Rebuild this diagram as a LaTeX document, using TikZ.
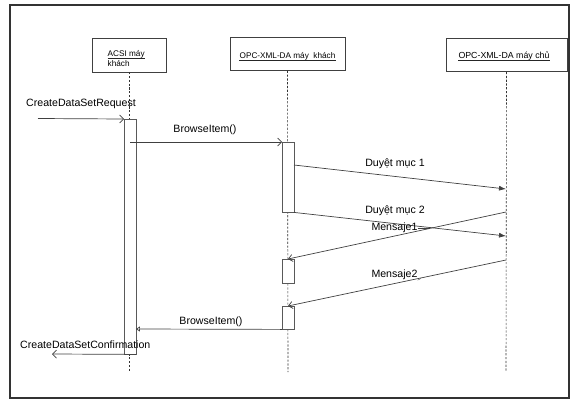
\documentclass[tikz,border=0pt]{standalone}
\usepackage{fontspec}
\setmainfont{Liberation Sans}
\usetikzlibrary{arrows.meta}
\begin{document}
\begin{tikzpicture}[x=1pt,y=-1pt,
    obj/.style={draw=black!75, thin, fill=white, inner sep=0pt},
    objtxt/.style={inner sep=0pt, font=\fontsize{8.2}{9}\selectfont},
    uline/.style={black!85, line width=0.55pt},
    act/.style={draw=black!65, thin, fill=white, minimum width=11.5pt, inner sep=0pt, anchor=north},
    life/.style={black!80, dash pattern=on 2.2pt off 1.6pt, line width=0.6pt},
    msg/.style={black!75, line width=0.7pt},
    lbl/.style={inner sep=0pt, font=\fontsize{10.6}{12}\selectfont}]

    \useasboundingbox (0,0) rectangle (576,402);

    % 外框
    \draw[black!80, line width=1.3pt] (10,5) rectangle (569,398);

    % 三个对象
    \node[obj, minimum width=74pt, minimum height=33.5pt] (acsi) at (129.5,55.25) {};
    \node[objtxt, anchor=base west] (acsiT1) at (107.5,56.5) {ACSI máy};
    \node[objtxt, anchor=base west] (acsiT2) at (107.5,66.5) {khách};
    \node[obj, minimum width=115pt, minimum height=33pt] (cli) at (287.5,54) {};
    \node[objtxt, anchor=base] (cliT) at (287.5,58) {OPC-XML-DA máy\ \ khách};
    \node[obj, minimum width=121pt, minimum height=33.5pt] (srv) at (506.5,54.5) {};
    \node[objtxt, anchor=base, font=\fontsize{8.8}{9}\selectfont] (srvT) at (504,58.5) {OPC-XML-DA máy chủ};

    % 下划线
    \draw[uline] ([yshift=-1.6pt]acsiT1.base west) -- ([yshift=-1.6pt]acsiT1.base east);
    \draw[uline] ([yshift=-1.8pt]cliT.base west) -- ([yshift=-1.8pt]cliT.base east);
    \draw[uline] ([yshift=-2pt]srvT.base west) -- ([yshift=-2pt]srvT.base east);

    % 生命线
    \coordinate (acsiE) at (129.5,371);
    \coordinate (cliE) at (288,372);
    \coordinate (srvE) at (506,372);
    \draw[life] (acsi.south) -- (acsiE);
    \draw[life] (cli.south) -- (cliE);
    \draw[life] (srv.south |- 0,72) -- (srvE);

    % 激活条
    \node[act, minimum height=235pt] (actA) at (130,119) {};
    \node[act, minimum height=70pt] (actB1) at (288,142) {};
    \node[act, minimum height=24pt] (actB2) at (288,259) {};
    \node[act, minimum height=23pt] (actB3) at (288,306) {};

    % 消息
    \coordinate (reqS) at (38,118.5);
    \coordinate (brS) at (130,142);
    \coordinate (d1S) at (294,165);
    \coordinate (d1E) at (506,189);
    \coordinate (d2E) at (506,236);
    \coordinate (m1S) at (506,212);
    \coordinate (m2S) at (506,260);
    \coordinate (brE) at (actA.east |- 0,329);
    \coordinate (confE) at (52,354);

    \draw[msg, -{Straight Barb[length=4pt,width=8pt]}] (reqS) -- (actA.north west);
    \draw[msg, -{Straight Barb[length=4pt,width=8pt]}] (brS) -- (actB1.north west);
    \draw[msg, -{Latex[length=7pt,width=5pt]}] (d1S) -- (d1E);
    \draw[msg, -{Latex[length=7pt,width=5pt]}] (actB1.south east) -- (d2E);
    \draw[msg, -{Straight Barb[length=4pt,width=7pt]}] (m1S) -- (actB2.north);
    \draw[msg, -{Straight Barb[length=4pt,width=7pt]}] (m2S) -- (actB3.north);
    \draw[msg, -{Triangle[open,length=4pt,width=5pt]}] (actB3.south west) -- (brE);
    \draw[msg, -{Straight Barb[length=4pt,width=8pt]}] (actA.south east) -- (confE);

    % 文字
    \node[lbl, anchor=west] (reqT) at (26,103.5) {CreateDataSetRequest};
    \node[lbl] (brT) at (205,129.5) {BrowseItem()};
    \node[lbl] (d1T) at (395,163.5) {Duyệt mục 1};
    \node[lbl] (d2T) at (395,210.5) {Duyệt mục 2};
    \node[lbl] (m1T) at (394.5,227.5) {Mensaje1};
    \node[lbl] (m2T) at (394.5,275) {Mensaje2};
    \node[lbl] (br2T) at (211,322) {BrowseItem()};
    \node[lbl, anchor=west] (confT) at (20,344.5) {CreateDataSetConfirmation};

    % 标注引线
    \coordinate (m1L) at (430,228.5);
    \coordinate (m2L) at (421,278.5);
    \draw[black!75, thin] (m1T.east) ++(0,1) -- (m1L);
    \draw[black!75, thin] (m2T.south east) -- (m2L);

  \end{tikzpicture}
\end{document}
